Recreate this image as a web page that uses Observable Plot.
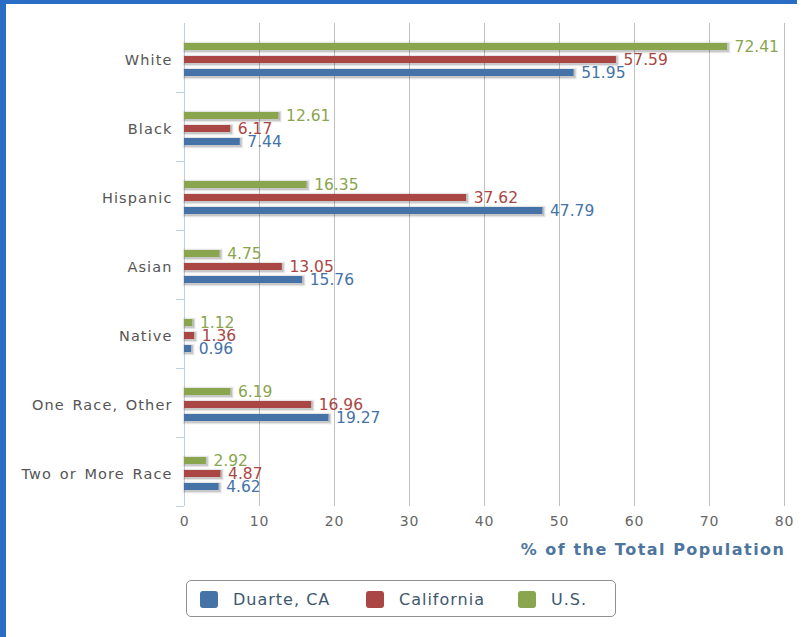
<!DOCTYPE html>
<html>
<head>
<meta charset="utf-8">
<script src="https://cdn.jsdelivr.net/npm/d3@7"></script>
<script src="https://cdn.jsdelivr.net/npm/@observablehq/plot@0.6"></script>
<style>
  html, body { margin: 0; padding: 0; background: #fff; }
  #page { position: relative; width: 808px; height: 637px; overflow: hidden; background: #fff; }
  #edge-left { position: absolute; left: 0; top: 0; width: 6px; height: 637px; background: #2b6cc4; }
  #edge-top { position: absolute; left: 0; top: 0; width: 797px; height: 4px; background: #2b6cc4; }
  #chart { position: absolute; left: 0; top: 0; }
  #chart svg { font-family: "DejaVu Sans", sans-serif; }
  #chart g[aria-label="fy-axis tick label"] text { letter-spacing: 1.1px; word-spacing: 2px; }
  #chart g[aria-label="x-axis tick label"] text { letter-spacing: 0.8px; }
  #axis-title { position: absolute; right: 24px; top: 540px; font-family: "DejaVu Sans", sans-serif;
                font-weight: bold; font-size: 16px; letter-spacing: 1.5px; color: #4d759e; line-height: 20px;
                margin-right: -1.5px; }
  #legend { position: absolute; left: 186px; top: 580px; width: 430px; height: 37px; box-sizing: border-box;
            border: 1px solid #909090; border-radius: 5px; font-family: "DejaVu Sans", sans-serif;
            font-size: 16px; color: #3e576f; letter-spacing: 1px; }
  .item { position: absolute; top: 0; height: 37px; display: flex; align-items: center; }
  .sw { width: 18px; height: 17px; border-radius: 3px; margin-right: 15px; }
</style>
</head>
<body>
<div id="page">
  <div id="chart"></div>
  <div id="axis-title"></div>
  <div id="legend"></div>
  <div id="edge-left"></div>
  <div id="edge-top"></div>
</div>
<script>
// Population share by race (% of total population)
const races = ["White", "Black", "Hispanic", "Asian", "Native", "One Race, Other", "Two or More Race"];
const duarte = [51.95, 7.44, 47.79, 15.76, 0.96, 19.27, 4.62];
const california = [57.59, 6.17, 37.62, 13.05, 1.36, 16.96, 4.87];
const us = [72.41, 12.61, 16.35, 4.75, 1.12, 6.19, 2.92];
const seriesNames = ["Duarte, CA", "California", "U.S."];
const seriesColors = ["#4572a7", "#aa4643", "#89a54e"];
const xTicks = [0, 10, 20, 30, 40, 50, 60, 70, 80];
const xTitle = "% of the Total Population";

const seriesValues = [duarte, california, us];
const rows = races.flatMap((race, i) =>
  seriesNames.map((s, j) => ({race, series: s, value: seriesValues[j][i]}))
);

const enc = {fy: "race", y: "series", x: "value"};

const chart = Plot.plot({
  width: 808,
  height: 570,
  marginLeft: 184,
  marginRight: 24,
  marginTop: 23,
  marginBottom: 64,
  x: {domain: [0, 80], ticks: xTicks},
  fy: {domain: races, padding: 0},
  y: {domain: ["U.S.", "California", "Duarte, CA"], paddingInner: 0.48, paddingOuter: 1.3, align: 0.55, axis: null},
  color: {domain: seriesNames, range: seriesColors},
  marks: [
    Plot.gridX(xTicks.filter(t => t > 0), {stroke: "#c0c0c0", strokeOpacity: 1}),
    Plot.ruleX([0], {stroke: "#c0d0e0"}),
    // soft drop shadow under each bar
    Plot.barX(rows, {...enc, dx: 1, dy: 1, fill: "none", stroke: "#000", strokeOpacity: 0.05, strokeWidth: 5}),
    Plot.barX(rows, {...enc, dx: 1, dy: 1, fill: "none", stroke: "#000", strokeOpacity: 0.1, strokeWidth: 3}),
    Plot.barX(rows, {...enc, dx: 1, dy: 1, fill: "none", stroke: "#000", strokeOpacity: 0.15, strokeWidth: 1}),
    Plot.barX(rows, {...enc, fill: "series"}),
    Plot.text(rows, {...enc, text: d => d.value.toFixed(2), dx: 7, dy: 0.5, textAnchor: "start",
      fill: "series", fontSize: 15.5, style: "letter-spacing: 1px"}),
    Plot.axisFy({anchor: "left", tickSize: 0, tickPadding: 12, dy: 2, fontSize: 14.5, color: "#555", label: null}),
    Plot.axisFy({anchor: "left", tickSize: 8, dy: 34.5, tickFormat: () => "", stroke: "#c0d0e0", label: null}),
    Plot.axisX({anchor: "bottom", ticks: xTicks, tickSize: 0, tickPadding: 10, fontSize: 14, color: "#666", label: null})
  ]
});
document.getElementById("chart").appendChild(chart);
document.getElementById("axis-title").textContent = xTitle;

// Legend
const legend = document.getElementById("legend");
const offsets = [13, 179, 331];
seriesNames.forEach((name, i) => {
  const item = document.createElement("div");
  item.className = "item";
  item.style.left = offsets[i] + "px";
  const sw = document.createElement("div");
  sw.className = "sw";
  sw.style.background = seriesColors[i];
  const label = document.createElement("span");
  label.textContent = name;
  item.appendChild(sw);
  item.appendChild(label);
  legend.appendChild(item);
});
</script>
</body>
</html>
